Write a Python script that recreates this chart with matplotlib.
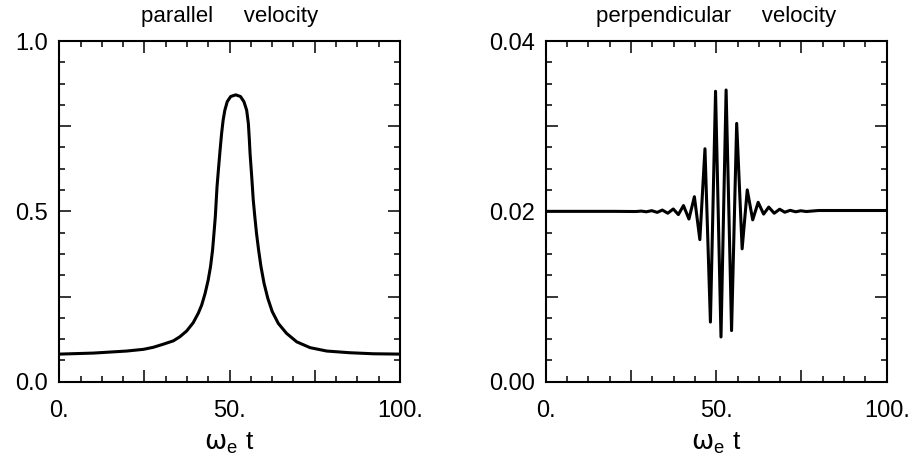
import numpy as np
import matplotlib
matplotlib.use("Agg")
import matplotlib.pyplot as plt
from matplotlib.ticker import FixedLocator, FixedFormatter, MultipleLocator

plt.rcParams['font.family'] = ['Liberation Sans', 'DejaVu Sans']
plt.rcParams['mathtext.fontset'] = 'custom'
plt.rcParams['mathtext.rm'] = 'Liberation Sans'
plt.rcParams['mathtext.it'] = 'DejaVu Sans'

# parallel velocity
par_t = [0, 10.0, 19.8, 24.7, 27.6, 30.5, 33.5, 35.4, 37.4, 39.3, 40.8, 41.8,
         42.8, 43.7, 44.4, 45.0, 45.4, 45.8, 46.3, 46.7, 47.2, 47.65, 48.1, 48.6,
         49.3, 50.3, 51.8, 53.2, 54.2, 55.0, 55.5, 55.8, 56.0, 56.5, 56.94, 57.4,
         57.9, 58.5, 59.2, 60.1, 61.2, 62.5, 64.3, 66.7, 69.7, 73.6, 78.5, 85.3,
         92.2, 100]
par_v = [0.081, 0.084, 0.090, 0.095, 0.101, 0.110, 0.120, 0.132, 0.149, 0.173,
         0.201, 0.225, 0.259, 0.298, 0.338, 0.387, 0.435, 0.484, 0.572, 0.621,
         0.680, 0.729, 0.768, 0.797, 0.822, 0.837, 0.842, 0.837, 0.822, 0.797,
         0.758, 0.709, 0.670, 0.600, 0.533, 0.484, 0.435, 0.387, 0.338, 0.289,
         0.245, 0.206, 0.171, 0.142, 0.117, 0.100, 0.090, 0.085, 0.082, 0.081]

# perpendicular velocity, extrema
perp_t = [0, 10, 20, 26.4, 28.0, 29.5, 31.1, 32.7, 34.2, 35.8, 37.4, 38.9, 40.4,
          42.0, 43.6, 45.2, 46.7, 48.3, 49.8, 51.4, 52.9, 54.5, 56.0, 57.6, 59.1,
          60.7, 62.3, 63.9, 65.4, 67.0, 68.6, 70.1, 71.7, 73.3, 74.8, 76.4, 80,
          90, 100]
perp_v = [0.0200, 0.0200, 0.0200, 0.01998, 0.02003, 0.01995, 0.02008, 0.01988,
          0.02015, 0.01978, 0.02028, 0.01962, 0.02068, 0.01910, 0.02172, 0.01668,
          0.02735, 0.00700, 0.03410, 0.00525, 0.03425, 0.00600, 0.03033, 0.01560,
          0.02252, 0.01900, 0.02106, 0.01968, 0.02050, 0.01978, 0.02025, 0.01990,
          0.02012, 0.01995, 0.02007, 0.01998, 0.0201, 0.0201, 0.0201]

xticks = [0, 25, 50, 75, 100]
xlabels = ['0.', '', '50.', '', '100.']
par_yticks = [0, 0.25, 0.5, 0.75, 1.0]
par_ylabels = ['0.0', '', '0.5', '', '1.0']
perp_yticks = [0, 0.01, 0.02, 0.03, 0.04]
perp_ylabels = ['0.00', '', '0.02', '', '0.04']

fig = plt.figure(figsize=(9.15, 4.66), dpi=100)
ax1 = fig.add_axes([0.0648, 0.1809, 0.3723, 0.7311])
ax2 = fig.add_axes([0.5964, 0.1809, 0.3727, 0.7311])


def style(ax, yt, yl, ymax, title):
    ax.set_xlim(0, 100)
    ax.set_ylim(0, ymax)
    ax.xaxis.set_major_locator(FixedLocator(xticks))
    ax.xaxis.set_major_formatter(FixedFormatter(xlabels))
    ax.xaxis.set_minor_locator(MultipleLocator(6.25))
    ax.yaxis.set_major_locator(FixedLocator(yt))
    ax.yaxis.set_major_formatter(FixedFormatter(yl))
    ax.yaxis.set_minor_locator(MultipleLocator(ymax / 16))
    ax.tick_params(which='both', direction='in', top=True, right=True, width=1.1)
    ax.tick_params(which='major', length=8.5)
    ax.tick_params(which='minor', length=4)
    ax.tick_params(axis='x', which='major', labelsize=17, pad=13)
    ax.tick_params(axis='y', which='major', labelsize=17, pad=8)
    for s in ax.spines.values():
        s.set_linewidth(1.5)
    ax.set_title(title, fontsize=16, pad=14)
    ax.set_xlabel(r'$\omega_{\rm e}\ $t', fontsize=19, labelpad=6)


ax1.plot(par_t, par_v, color='black', linewidth=2.2, solid_joinstyle='round')
style(ax1, par_yticks, par_ylabels, 1.0, 'parallel     velocity')

ax2.plot(perp_t, perp_v, color='black', linewidth=2.2, solid_joinstyle='round')
style(ax2, perp_yticks, perp_ylabels, 0.04, 'perpendicular     velocity')

fig.savefig('out.png', dpi=100)
